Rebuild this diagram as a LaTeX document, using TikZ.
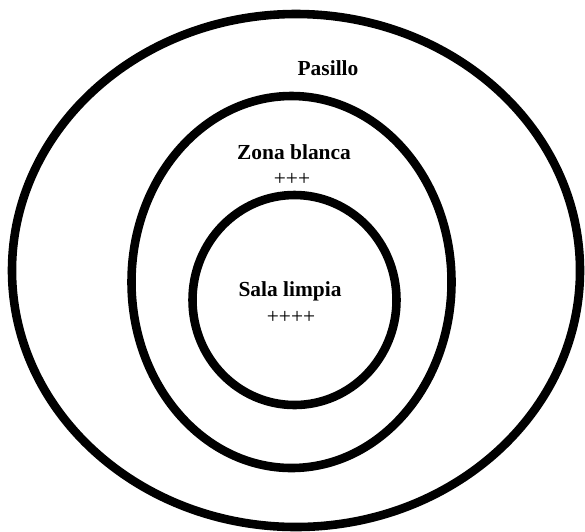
\documentclass[tikz,border=0pt]{standalone}
\usepackage{fontspec}
\setmainfont{Liberation Serif}
\begin{document}
\begin{tikzpicture}[x=0.56pt,y=-0.56pt,line cap=round,line join=round]
  \tikzset{ring/.style={line width=4.8pt},
    zone/.style={font=\bfseries\fontsize{12}{14}\selectfont},
    level/.style={font=\fontsize{12}{14}\selectfont}}
  \useasboundingbox (0,0) rectangle (585,531);
  \draw[ring] (296,270.5) ellipse [x radius=284,y radius=256.5];
  \draw[ring] (291.5,282) ellipse [x radius=160,y radius=186];
  \draw[ring] (294.5,300) ellipse [x radius=102,y radius=105];
  \node[zone] (pasillo) at (328,68) {Pasillo};
  \node[zone] (zona) at (294,152) {Zona blanca};
  \node[level] (zonaplus) at (292,179) {+++};
  \node[zone] (sala) at (290,291) {Sala limpia};
  \node[level] (salaplus) at (291,317) {++++};
\end{tikzpicture}
\end{document}
